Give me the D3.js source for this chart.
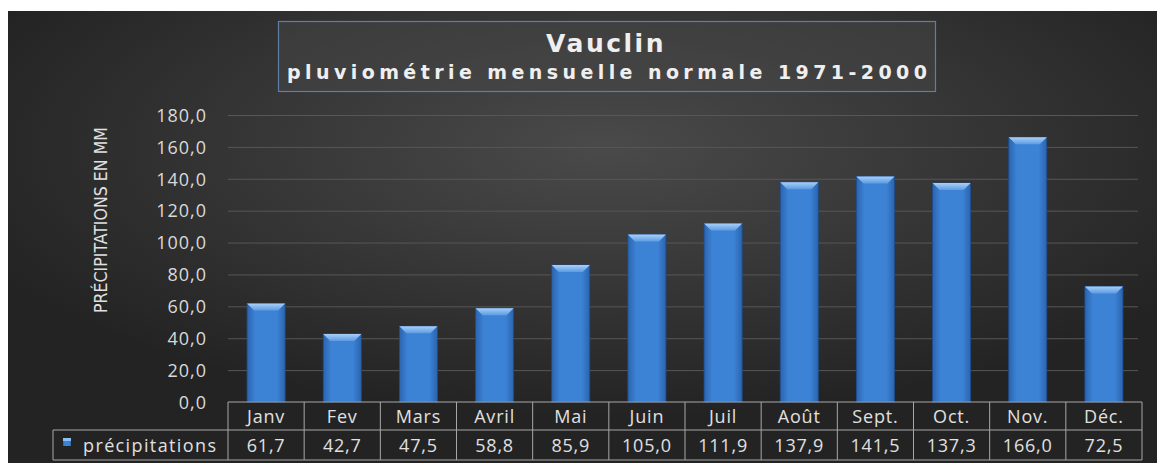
<!DOCTYPE html>
<html>
<head>
<meta charset="utf-8">
<script src="https://d3js.org/d3.v7.min.js"></script>
<style>
  body { margin: 0; background: #fff; }
  svg { display: block; }
</style>
</head>
<body>
<svg width="1157" height="463"></svg>
<script>
const months = ["Janv", "Fev", "Mars", "Avril", "Mai", "Juin", "Juil", "Août", "Sept.", "Oct.", "Nov.", "Déc."];
const rainfall = [61.7, 42.7, 47.5, 58.8, 85.9, 105.0, 111.9, 137.9, 141.5, 137.3, 166.0, 72.5];
const yTicks = [0, 20, 40, 60, 80, 100, 120, 140, 160, 180];
const seriesName = "précipitations";
const title = "Vauclin";
const subtitle = "pluviométrie mensuelle normale 1971-2000";
const yTitle = "PRÉCIPITATIONS EN MM";

const svg = d3.select("svg");
const defs = svg.append("defs");
const font = "'Open Sans', sans-serif";
const titleFont = "'DejaVu Sans', sans-serif";

// background
const bg = defs.append("radialGradient").attr("id", "bg")
    .attr("cx", "52%").attr("cy", "30%").attr("r", "60%");
bg.append("stop").attr("offset", "0%").attr("stop-color", "#4a4a4a");
bg.append("stop").attr("offset", "100%").attr("stop-color", "#232323");
svg.append("rect").attr("x", 8).attr("y", 11).attr("width", 1149).attr("height", 452)
    .attr("fill", "url(#bg)");

// bar gradient
const barGrad = defs.append("linearGradient").attr("id", "bar")
    .attr("x1", "0%").attr("x2", "100%");
barGrad.append("stop").attr("offset", "0%").attr("stop-color", "#2a64b0");
barGrad.append("stop").attr("offset", "22%").attr("stop-color", "#3d83d5");
barGrad.append("stop").attr("offset", "78%").attr("stop-color", "#3d83d5");
barGrad.append("stop").attr("offset", "100%").attr("stop-color", "#2a64b0");

const bevelGrad = defs.append("linearGradient").attr("id", "bevel")
    .attr("x1", "0%").attr("x2", "0%").attr("y1", "0%").attr("y2", "100%");
bevelGrad.append("stop").attr("offset", "0%").attr("stop-color", "#a9cff7");
bevelGrad.append("stop").attr("offset", "100%").attr("stop-color", "#5b9be3");

const plotLeft = 228, plotRight = 1142, plotTop = 115, plotBottom = 402;

const x = d3.scaleBand().domain(months).range([plotLeft, plotRight]).paddingInner(0.5).paddingOuter(0.25);
const xCol = d3.scaleBand().domain(months).range([plotLeft, plotRight]);
const y = d3.scaleLinear().domain([0, 180]).range([plotBottom, plotTop]);

// gridlines
svg.append("g").selectAll("line").data(yTicks.filter(d => d > 0)).join("line")
    .attr("x1", plotLeft).attr("x2", plotRight - 4)
    .attr("y1", d => y(d) + 0.5).attr("y2", d => y(d) + 0.5)
    .attr("stroke", "#575757").attr("stroke-width", 1);

// y axis
const yAxis = svg.append("g").attr("transform", `translate(${plotLeft - 21},0)`)
    .call(d3.axisLeft(y).tickValues(yTicks).tickSize(0).tickPadding(0)
        .tickFormat(d => d3.format(".1f")(d).replace(".", ",")));
yAxis.select(".domain").remove();
yAxis.selectAll("text").attr("fill", "#d9d9d9").attr("font-family", font)
    .attr("font-size", 18).attr("letter-spacing", 1).attr("dy", "0.35em");

svg.append("text")
    .attr("transform", "translate(107,220) rotate(-90)")
    .attr("text-anchor", "middle").attr("fill", "#e0e0e0")
    .attr("font-family", "'Liberation Sans Narrow', 'DejaVu Sans Condensed', sans-serif")
    .attr("font-size", 18).attr("textLength", 186).attr("lengthAdjust", "spacingAndGlyphs")
    .text(yTitle);

// bars
const bars = svg.append("g").selectAll("g").data(months).join("g");
bars.append("rect")
    .attr("x", (d, i) => x(d)).attr("y", (d, i) => y(rainfall[i]))
    .attr("width", x.bandwidth()).attr("height", (d, i) => plotBottom - y(rainfall[i]))
    .attr("fill", "url(#bar)").attr("stroke", "#1e4c8a").attr("stroke-width", 0.8);
bars.append("path")
    .attr("d", (d, i) => {
        const x0 = x(d), w = x.bandwidth(), y0 = y(rainfall[i]), b = 7;
        return `M${x0},${y0}L${x0 + w},${y0}L${x0 + w - b},${y0 + b}L${x0 + b},${y0 + b}Z`;
    })
    .attr("fill", "url(#bevel)");

// data table
const rowY = [402, 430, 460];
const table = svg.append("g").attr("stroke", "#a8a8a8").attr("stroke-width", 1).attr("fill", "none");
table.append("line").attr("x1", plotLeft).attr("x2", plotRight).attr("y1", rowY[0]).attr("y2", rowY[0]);
table.append("line").attr("x1", 53).attr("x2", plotRight).attr("y1", rowY[1]).attr("y2", rowY[1]);
table.append("line").attr("x1", 53).attr("x2", plotRight).attr("y1", rowY[2]).attr("y2", rowY[2]);
table.append("line").attr("x1", 53).attr("x2", 53).attr("y1", rowY[1]).attr("y2", rowY[2]);
table.selectAll(".v").data(months.concat(["end"])).join("line")
    .attr("x1", (d, i) => plotLeft + i * xCol.bandwidth()).attr("x2", (d, i) => plotLeft + i * xCol.bandwidth())
    .attr("y1", rowY[0]).attr("y2", rowY[2]);

svg.append("g").selectAll("text").data(months).join("text")
    .attr("x", d => xCol(d) + xCol.bandwidth() / 2).attr("y", 423)
    .attr("text-anchor", "middle").attr("fill", "#e0e0e0")
    .attr("font-family", font).attr("font-size", 18).attr("letter-spacing", 0.8).text(d => d);

svg.append("g").selectAll("text").data(rainfall).join("text")
    .attr("x", (d, i) => xCol(months[i]) + xCol.bandwidth() / 2).attr("y", 452)
    .attr("text-anchor", "middle").attr("fill", "#e0e0e0")
    .attr("font-family", font).attr("font-size", 18).attr("letter-spacing", 0.8)
    .text(d => d3.format(".1f")(d).replace(".", ","));

svg.append("rect").attr("x", 63).attr("y", 438).attr("width", 8).attr("height", 8)
    .attr("fill", "url(#bar)");
svg.append("rect").attr("x", 63).attr("y", 438).attr("width", 8).attr("height", 3)
    .attr("fill", "#8cc0f2");
svg.append("text").attr("x", 83).attr("y", 452).attr("fill", "#e0e0e0")
    .attr("font-family", font).attr("font-size", 18).attr("textLength", 133)
    .attr("lengthAdjust", "spacing").text(seriesName);

// title box
svg.append("rect").attr("x", 278.5).attr("y", 21.5).attr("width", 657).attr("height", 70)
    .attr("fill", "#4a4a4a").attr("fill-opacity", 0.45)
    .attr("stroke", "#5d7fa6").attr("stroke-width", 1.2);
svg.append("text").attr("x", 606).attr("y", 52).attr("text-anchor", "middle")
    .attr("fill", "#efefef").attr("font-family", titleFont).attr("font-weight", "bold")
    .attr("font-size", 25).attr("letter-spacing", 2.5).text(title);
svg.append("text").attr("x", 287).attr("y", 79)
    .attr("fill", "#efefef").attr("font-family", titleFont).attr("font-weight", "bold")
    .attr("font-size", 19).attr("textLength", 640).attr("lengthAdjust", "spacing")
    .text(subtitle);
</script>
</body>
</html>
